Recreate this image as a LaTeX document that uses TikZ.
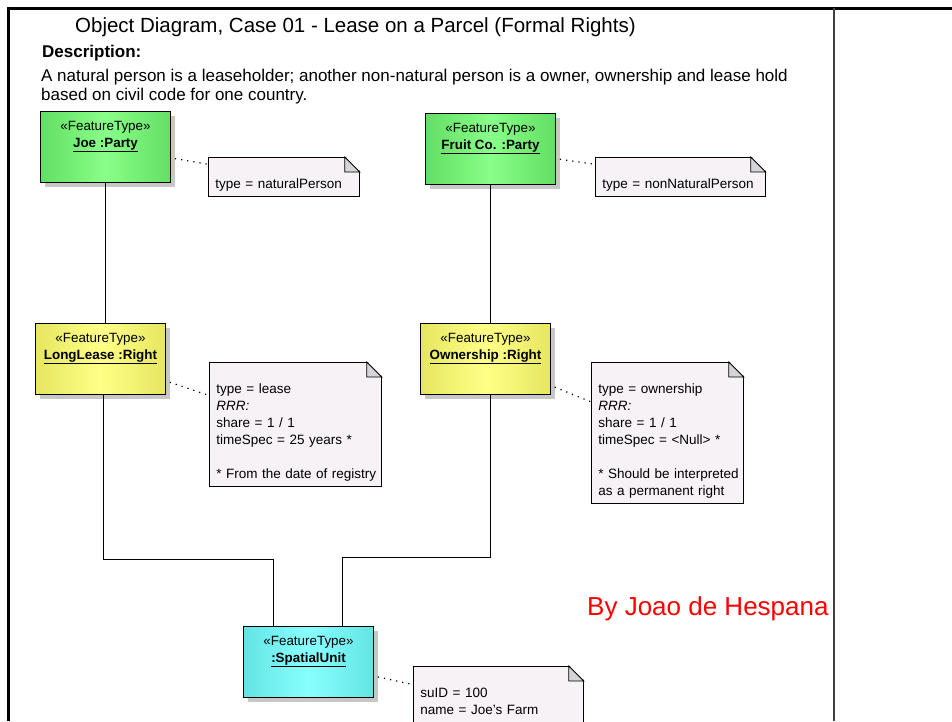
\documentclass[tikz,border=0pt]{standalone}
\usepackage{fontspec}
\setmainfont{Liberation Sans}
\usetikzlibrary{shadows}

\definecolor{partyedge}{RGB}{100,222,100}
\definecolor{partymid}{RGB}{136,255,136}
\definecolor{rrredge}{RGB}{230,230,96}
\definecolor{rrrmid}{RGB}{255,255,136}
\definecolor{suedge}{RGB}{100,228,228}
\definecolor{sumid}{RGB}{136,255,255}
\definecolor{notefill}{RGB}{246,242,246}
\definecolor{foldfill}{RGB}{214,212,214}
\definecolor{framegray}{RGB}{64,64,64}

% turned-down corner of a note
\newcommand\dogear[1]{%
  \fill[white] ([xshift=-15pt,yshift=1pt]#1.north east) -- ([xshift=1pt,yshift=1pt]#1.north east)
    -- ([xshift=1pt,yshift=-15pt]#1.north east) -- cycle;
  \filldraw[fold] ([xshift=-15pt]#1.north east) -- ([xshift=-15pt,yshift=-15pt]#1.north east)
    -- ([yshift=-15pt]#1.north east) -- cycle;
}

\begin{document}
\begin{tikzpicture}[x=1pt,y=-1pt,
    object/.style={draw, line width=1pt, minimum width=130pt, minimum height=71pt,
      anchor=north west, inner sep=0pt,
      drop shadow={shadow xshift=4pt, shadow yshift=-4pt, fill=black!22, opacity=1}},
    party/.style={object, left color=partyedge, right color=partyedge, middle color=partymid},
    rrr/.style={object, left color=rrredge, right color=rrredge, middle color=rrrmid},
    spatial/.style={object, left color=suedge, right color=suedge, middle color=sumid},
    stereo/.style={anchor=north, align=center, inner sep=0pt, font=\fontsize{13.4}{16.5}\selectfont},
    note/.style={draw, line width=.8pt, fill=notefill, anchor=north west, inner xsep=7pt,
      inner ysep=0pt, align=left, font=\fontsize{13.5}{17}\selectfont,
      execute at begin node=\rule{0pt}{31pt}, execute at end node=\rule[-8pt]{0pt}{8pt}},
    fold/.style={draw=black, line width=.8pt, fill=foldfill},
    link/.style={line width=.9pt},
    noteline/.style={line width=1.2pt, dash pattern=on 1.2pt off 5pt, shorten <=4pt},
    heading/.style={anchor=base west, inner sep=0pt}]
    \useasboundingbox (0,0) rectangle (952,721);

    % frame of the sheet
    \draw[line width=3pt] (8,721) -- (8,8) -- (952,8);
    \draw[framegray, line width=1.5pt] (834,8) -- (834,721);

    % title and description
    \node[heading, font=\fontsize{20.5}{24}\selectfont] (title) at (75,32)
        {Object Diagram, Case 01 - Lease on a Parcel (Formal Rights)};
    \node[heading, font=\fontsize{17}{20}\selectfont\bfseries] (deschead) at (42,57) {Description:};
    \node[heading, font=\fontsize{17}{20}\selectfont] (desc1) at (41,81)
        {A natural person is a leaseholder; another non-natural person is a owner, ownership and lease hold};
    \node[heading, font=\fontsize{17}{20}\selectfont] (desc2) at (41,100)
        {based on civil code for one country.};

    % objects
    \node[party] (joe) at (40,111) {};
    \node[stereo] (joe-lbl) at ([yshift=-10.5pt]joe.north) {«FeatureType»\\\underline{\textbf{Joe :Party}}};
    \node[party] (fruit) at (425,113) {};
    \node[stereo] (fruit-lbl) at ([yshift=-10.5pt]fruit.north) {«FeatureType»\\\underline{\textbf{Fruit Co. :Party}}};
    \node[rrr] (lease) at (35,323) {};
    \node[stereo] (lease-lbl) at ([yshift=-10.5pt]lease.north) {«FeatureType»\\\underline{\textbf{LongLease :Right}}};
    \node[rrr] (own) at (420,323) {};
    \node[stereo] (own-lbl) at ([yshift=-10.5pt]own.north) {«FeatureType»\\\underline{\textbf{Ownership :Right}}};
    \node[spatial] (parcel) at (243,626) {};
    \node[stereo] (parcel-lbl) at ([yshift=-10.5pt]parcel.north) {«FeatureType»\\\underline{\textbf{:SpatialUnit}}};

    % notes
    \node[note, text width=137pt] (joe-note) at (208,157) {type = naturalPerson};
    \dogear{joe-note}
    \node[note, text width=156pt] (fruit-note) at (595,157) {type = nonNaturalPerson};
    \dogear{fruit-note}
    \node[note, text width=158pt] (lease-note) at (209,362)
        {type = lease\\\textit{RRR:}\\share = 1 / 1\\timeSpec = 25 years *\\[17pt]\mbox{* From the date of registry}};
    \dogear{lease-note}
    \node[note, text width=138pt] (own-note) at (591,362)
        {type = ownership\\\textit{RRR:}\\share = 1 / 1\\timeSpec = <Null> *\\[17pt]\mbox{* Should be interpreted}\\as a permanent right};
    \dogear{own-note}
    \node[note, text width=156pt] (parcel-note) at (413,666)
        {suID = 100\\name = Joe's Farm\\};
    \dogear{parcel-note}

    % associations
    \draw[link] (joe) -- (joe |- lease.north);
    \draw[link] (fruit) -- (fruit |- own.north);
    \draw[link] ([xshift=3pt]lease.south) -- ++(0,164) -| ([xshift=-35pt]parcel.north);
    \draw[link] (fruit |- own.south) -- ++(0,162) -| ([xshift=34pt]parcel.north);

    % notes attached to objects
    \draw[noteline] (joe) -- (joe-note);
    \draw[noteline] (fruit) -- (fruit-note);
    \draw[noteline] (lease) -- (lease-note);
    \draw[noteline] (own) -- (own-note);
    \draw[noteline] (parcel) -- (parcel-note);

    \node[heading, text=red, font=\fontsize{26}{30}\selectfont] (author) at (587,615) {By Joao de Hespana};
\end{tikzpicture}
\end{document}
